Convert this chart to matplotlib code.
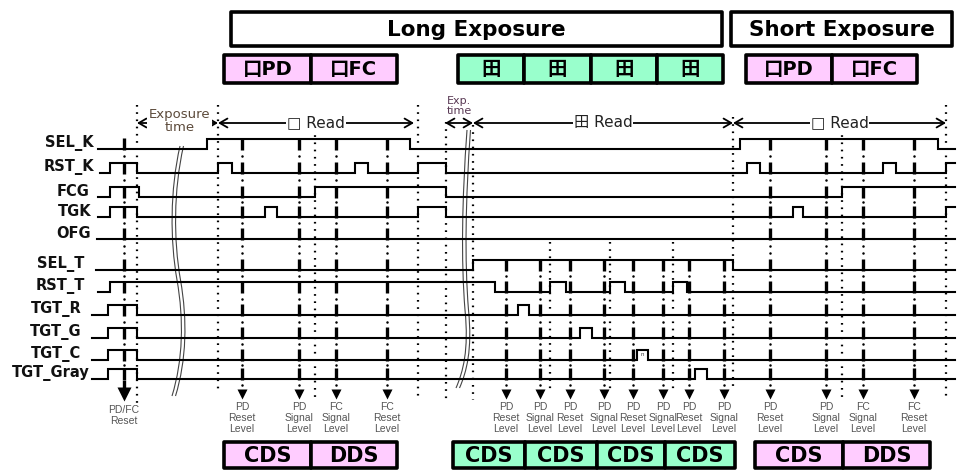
import numpy as np
import matplotlib
matplotlib.use('Agg')
import matplotlib.pyplot as plt
from matplotlib.patches import Rectangle, PathPatch
from matplotlib.path import Path

plt.rcParams['lines.scale_dashes'] = False
CJK = ['DejaVu Sans', 'Noto Sans CJK JP']

# ---------------- data ----------------
signals = ['SEL_K', 'RST_K', 'FCG', 'TGK', 'OFG', 'SEL_T', 'RST_T',
           'TGT_R', 'TGT_G', 'TGT_C', 'TGT_Gray']
# toggle instants for each signal (starts low, toggles at each instant)
edges = {
    'SEL_K': [207, 410, 740, 938],
    'RST_K': [110, 137, 218, 232, 355, 368, 418, 446, 747, 760, 883, 896, 946],
    'FCG': [110, 139, 315, 446, 842],
    'TGK': [110, 137, 265, 277, 418, 446, 793, 803, 946],
    'OFG': [],
    'SEL_T': [473, 733],
    'RST_T': [110, 495, 550, 566, 610, 625, 673, 687],
    'TGT_R': [108, 137, 518, 529],
    'TGT_G': [108, 137, 580, 592],
    'TGT_C': [108, 137, 637, 648],
    'TGT_Gray': [108, 137, 695, 707],
}
t_begin = [98, 100, 98, 98, 97, 96, 98, 92, 92, 92, 92]
t_stop = 955

reset_t = 124
reset_label = 'PD/FC\nReset'
long_sq_t = [242, 299, 336, 387]
sq_labels = ['PD\nReset\nLevel', 'PD\nSignal\nLevel', 'FC\nSignal\nLevel', 'FC\nReset\nLevel']
quad_t = [506, 540, 570, 604, 633, 663, 689, 724]
quad_labels = ['PD\nReset\nLevel', 'PD\nSignal\nLevel'] * 4
short_sq_t = [770, 826, 863, 914]

phase_t = [137, 218, 315, 418, 446, 473, 550, 610, 673, 733, 842, 946]
phase_top = [105, 105, 128, 105, 122, 125, 242, 242, 242, 117, 128, 105]
phase_bot = [405, 392, 398, 398, 400, 400, 390, 390, 390, 388, 400, 400]

spans = [(137, 218, 'Exposure\ntime'), (218, 414, '□ Read'), (445, 473, 'Exp.\ntime'),
         (473, 733, '田 Read'), (733, 946, '□ Read')]

headers = [('Long Exposure', 231, 722), ('Short Exposure', 731, 952)]
PINK = '#FFCCFF'
GREEN = '#99FFCC'
mode_cells = [('口PD', 224, 311, PINK), ('口FC', 311, 397, PINK),
              ('田', 458, 524, GREEN), ('田', 524, 591, GREEN),
              ('田', 591, 657, GREEN), ('田', 657, 723, GREEN),
              ('口PD', 746, 832, PINK), ('口FC', 832, 917, PINK)]
proc_cells = [('CDS', 224, 311, PINK), ('DDS', 311, 397, PINK),
              ('CDS', 453, 525, GREEN), ('CDS', 525, 597, GREEN),
              ('CDS', 597, 665, GREEN), ('CDS', 665, 735, GREEN),
              ('CDS', 755, 843, PINK), ('DDS', 843, 930, PINK)]

# ---------------- layout ----------------
row_low = [149, 173, 197, 217, 239, 270, 292, 315, 338, 360, 379]
label_x = [94, 94, 90, 91, 91, 84, 85, 82, 82, 81, 90]
AMP = 10

fig = plt.figure(figsize=(9.59, 4.70), dpi=100)
ax = fig.add_axes([0, 0, 1, 1])
ax.set_xlim(0, 959)
ax.set_ylim(470, 0)
ax.axis('off')

# signal waveforms
for i, name in enumerate(signals):
    lo = row_low[i]
    hi = lo - AMP
    xs = [t_begin[i]]
    ys = [lo]
    level = lo
    for t in edges[name]:
        xs += [t, t]
        nl = hi if level == lo else lo
        ys += [level, nl]
        level = nl
    xs.append(t_stop)
    ys.append(level)
    ax.plot(xs, ys, color='black', lw=1.5, solid_joinstyle='miter')
    ax.text(label_x[i], lo - 6, name, ha='right', va='center',
            fontsize=10.5, fontweight='bold', color='#111111')

ax.text(642, 354, 'n', fontsize=4, ha='center', va='center', color='#333')

# exposure breaks (double wavy lines)
def brk(pts, dx):
    verts = [(x + dx, y) for x, y in pts]
    codes = [Path.MOVETO] + [Path.CURVE4] * (len(pts) - 1)
    ax.add_patch(PathPatch(Path(verts, codes), fill=False, lw=0.8, ec='#444444'))

b1 = [(180, 146), (170, 190), (170, 240), (177, 280), (184, 320), (183, 360), (172, 396)]
b2 = [(467, 130), (462, 200), (461, 260), (465, 310), (469, 350), (463, 372), (456, 388)]
for d in (0, 3.5):
    brk(b1, d)
    brk(b2, d)

# dotted phase separators
for x, t0, t1 in zip(phase_t, phase_top, phase_bot):
    ax.plot([x, x], [t0, t1], color='black', lw=1.6, linestyle=(0, (1.2, 4.0)))

# sampling (dash-dot) lines with arrows
def sample_line(x, first_row, ms=7.5):
    prev = None
    for i in range(first_row, len(signals)):
        top = row_low[i] - AMP - 1
        bot = row_low[i] + 1
        ax.plot([x, x], [top, bot], color='black', lw=2.4, solid_capstyle='butt')
        if prev is not None:
            gap = top - prev
            n = 2 if gap > 16 else 1
            for k in range(n):
                ax.plot(x, prev + gap * (k + 1) / (n + 1), 'o', ms=1.8, color='black', mec='none')
        prev = bot
    ax.plot(x, prev + 5, 'o', ms=1.8, color='black', mec='none')
    ax.plot(x, 394, marker='v', ms=ms, color='black', mec='none')

sample_line(reset_t, 0, ms=10)
ax.plot([reset_t, reset_t], [382, 390], color='black', lw=2.4)
ax.text(reset_t, 405, reset_label, ha='center', va='top', fontsize=7.5,
        family='Liberation Sans', color='#555555', linespacing=1.15)

for xs, labels, first in ((long_sq_t, sq_labels, 0), (quad_t, quad_labels, 5),
                          (short_sq_t, sq_labels, 0)):
    for x, lab in zip(xs, labels):
        sample_line(x, first)
        ax.text(x, 402, lab, ha='center', va='top', fontsize=7.5,
                family='Liberation Sans', color='#555555', linespacing=1.15)

# phase span arrows
for (a, b, txt) in spans:
    ax.annotate('', xy=(b, 123), xytext=(a, 123),
                arrowprops=dict(arrowstyle='<->,head_length=0.55,head_width=0.32',
                                lw=1.3, color='black', shrinkA=0, shrinkB=0))
    mid = (a + b) / 2
    if txt.startswith('Exposure'):
        ax.text(mid + 2, 121, txt, ha='center', va='center', fontsize=9.5,
                color='#5c4a3a', linespacing=1.05,
                bbox=dict(fc='white', ec='none', pad=1))
    elif txt.startswith('Exp.'):
        ax.text(mid, 106, txt, ha='center', va='center', fontsize=8,
                color='#5a3a55', linespacing=1.0)
    else:
        ax.text(mid, 123, txt, ha='center', va='center', fontsize=11,
                family=CJK, color='#222222',
                bbox=dict(fc='white', ec='none', pad=0.5))

# header boxes
for txt, a, b in headers:
    ax.add_patch(Rectangle((a, 12), b - a, 34, fc='white', ec='black', lw=2.6, joinstyle='round'))
    ax.text((a + b) / 2, 29.5, txt, ha='center', va='center', fontsize=15.5,
            fontweight='bold', color='black')

for txt, a, b, c in mode_cells:
    ax.add_patch(Rectangle((a, 55), b - a, 28, fc=c, ec='black', lw=2.6, joinstyle='round'))
    ax.text((a + b) / 2, 69.5, txt, ha='center', va='center', fontsize=14,
            fontweight='bold', family=CJK, color='black')

for txt, a, b, c in proc_cells:
    ax.add_patch(Rectangle((a, 442), b - a, 26, fc=c, ec='black', lw=2.6, joinstyle='round'))
    ax.text((a + b) / 2, 456, txt, ha='center', va='center', fontsize=15,
            fontweight='bold', color='black')

fig.savefig('out.png', dpi=100, facecolor='white')
